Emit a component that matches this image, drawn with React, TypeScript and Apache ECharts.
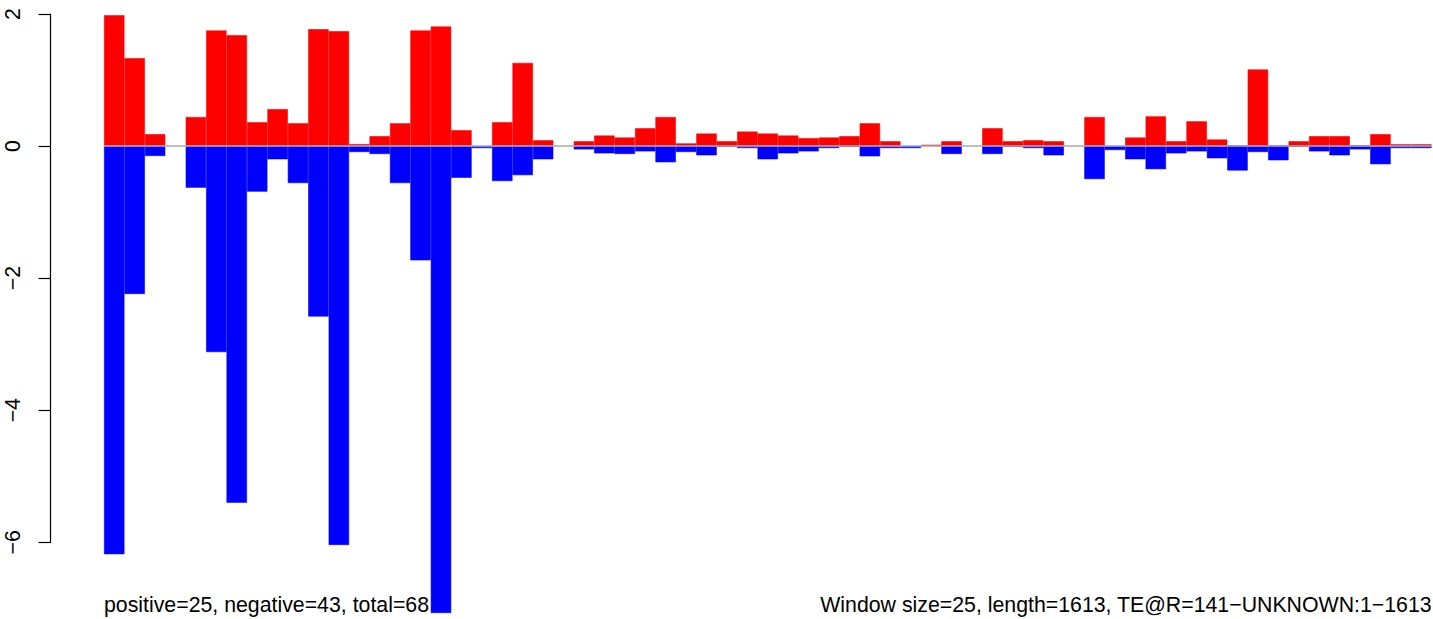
import React, { useEffect, useRef } from "react";
import * as echarts from "echarts";

// 65 windows of size 25 along a sequence of length 1613
const windows: string[] = Array.from({ length: 65 }, (_, i) => String(i * 25 + 1));

const positiveValues: number[] = [
  1.98, 1.33, 0.18, 0, 0.44, 1.75, 1.68, 0.36, 0.56, 0.345,
  1.77, 1.74, 0.03, 0.15, 0.345, 1.75, 1.81, 0.24, 0, 0.36,
  1.26, 0.088, 0, 0.073, 0.16, 0.13, 0.27, 0.44, 0.04, 0.19,
  0.073, 0.22, 0.19, 0.16, 0.12, 0.13, 0.15, 0.345, 0.073, 0,
  0.02, 0.073, 0, 0.27, 0.073, 0.088, 0.073, 0, 0.44, 0,
  0.13, 0.45, 0.073, 0.375, 0.1, 0.012, 1.16, 0.012, 0.073, 0.15,
  0.15, 0.012, 0.18, 0.027, 0.027,
];

const negativeValues: number[] = [
  -6.18, -2.24, -0.15, 0, -0.63, -3.12, -5.4, -0.69, -0.2, -0.56,
  -2.58, -6.04, -0.09, -0.12, -0.56, -1.73, -7.07, -0.48, -0.03, -0.53,
  -0.44, -0.2, 0, -0.05, -0.11, -0.12, -0.08, -0.245, -0.09, -0.14,
  -0.01, -0.03, -0.2, -0.11, -0.08, -0.03, -0.01, -0.155, -0.03, -0.03,
  0, -0.12, 0, -0.12, -0.01, -0.03, -0.14, 0, -0.5, -0.06,
  -0.2, -0.35, -0.11, -0.08, -0.185, -0.37, -0.09, -0.215, -0.01, -0.08,
  -0.14, -0.05, -0.275, -0.03, -0.03,
];

const yMin = -6;
const yMax = 2;
const yStep = 2;

const leftNote = "positive=25, negative=43, total=68";
const rightNote = "Window size=25, length=1613, TE@R=141\u2212UNKNOWN:1\u22121613";

const FONT = "'Liberation Sans', Arial, Helvetica, sans-serif";

const toBarData = (arr: number[]) => arr.map((v) => (v === 0 ? "-" : v));

export default function App() {
  const ref = useRef<HTMLDivElement>(null);
  useEffect(() => {
    if (!ref.current) return;
    const chart = echarts.init(ref.current, undefined, { renderer: "svg" });
    chart.setOption({
      animation: false,
      backgroundColor: "#ffffff",
      textStyle: { fontFamily: FONT },
      title: [
        {
          text: leftNote,
          left: 104,
          top: 594,
          padding: 0,
          textStyle: { fontFamily: FONT, fontSize: 21.3, fontWeight: "normal", color: "#000" },
        },
        {
          text: rightNote,
          right: 1,
          top: 594,
          padding: 0,
          textStyle: { fontFamily: FONT, fontSize: 21.3, fontWeight: "normal", color: "#000" },
        },
      ],
      grid: {
        left: 104,
        top: 14,
        width: 1327.5,
        height: 528.3,
        containLabel: false,
        outerBoundsMode: "none",
      },
      xAxis: {
        type: "category",
        data: windows,
        show: false,
        boundaryGap: true,
      },
      yAxis: {
        type: "value",
        min: yMin,
        max: yMax,
        interval: yStep,
        offset: 53.5,
        splitLine: { show: false },
        axisLine: { show: true, lineStyle: { color: "#000", width: 1.2 } },
        axisTick: { show: true, length: 12, lineStyle: { color: "#000", width: 1.2 } },
        axisLabel: {
          rotate: 90,
          margin: 27,
          fontSize: 21.3,
          fontFamily: FONT,
          color: "#000",
          formatter: (v: number) => (v < 0 ? "\u2212" + Math.abs(v) : String(v)),
        },
      },
      series: [
        {
          type: "line",
          data: [],
          z: 1,
          markLine: {
            silent: true,
            symbol: "none",
            label: { show: false },
            lineStyle: { color: "#aaaaaa", width: 1.5, type: "solid" },
            data: [{ yAxis: 0 }],
          },
        },
        {
          type: "bar",
          name: "positive",
          data: toBarData(positiveValues),
          barWidth: "100%",
          barGap: "-100%",
          clip: false,
          z: 3,
          itemStyle: { color: "#ff0000", borderColor: "#ff0000", borderWidth: 0.6 },
        },
        {
          type: "bar",
          name: "negative",
          data: toBarData(negativeValues),
          barWidth: "100%",
          barGap: "-100%",
          clip: false,
          z: 3,
          itemStyle: { color: "#0000ff", borderColor: "#0000ff", borderWidth: 0.6 },
        },
      ],
    });
    return () => chart.dispose();
  }, []);
  return (
    <div
      ref={ref}
      style={{ position: "fixed", left: 0, top: 0, width: 1433, height: 619 }}
    />
  );
}
